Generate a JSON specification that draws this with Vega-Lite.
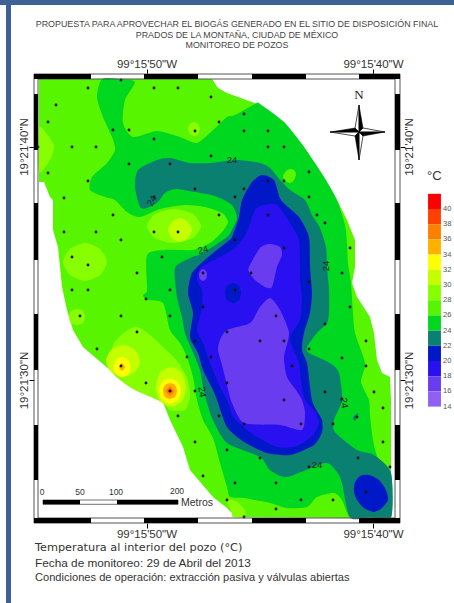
{
"$schema":"https://vega.github.io/schema/vega-lite/v6.json",
"width":366,"height":449,
"autosize":{"type":"none"},
"padding":{"left":34,"top":74,"right":54,"bottom":80},
"background":"#ffffff",
"config":{"view":{"stroke":null},"font":"Liberation Sans"},
"datasets":{
"titleLines":[{"e":237,"n":24,"txt":"PROPUESTA PARA APROVECHAR EL BIOGÁS GENERADO EN EL SITIO DE DISPOSICIÓN FINAL"},{"e":237,"n":34.5,"txt":"PRADOS DE LA MONTAÑA, CIUDAD DE MÉXICO"},{"e":237,"n":45,"txt":"MONITOREO DE POZOS"}],
"outline":[{"id":"base","t":"26","e":[39,212,218,227,260,284,304,324,337,347,355,355,352,357,370,374,377,382,390,391,391,350,233,232,227,213,190,183,170,163,150,133,110,83,73,67,62,58,53,53,50,44,39],"n":[79,79,88,93,105,122,147,177,200,220,240,267,283,297,317,333,360,373,377,400,518,518,517,513,508,497,470,447,420,402,396,388,370,347,330,310,287,247,230,200,197,182,182]}],
"bands":[
{"id":"h1","t":"28","e":[39,47,54,50,39],"n":[128,134,146,160,172]},
{"id":"h2","t":"28","e":[201,193,174,155,147,155,174,193],"n":[226,238,243,238,226,214,209,214]},
{"id":"h3","t":"30","e":[192,188,180,172,168,172,180,188],"n":[230,238,242,238,230,222,218,222]},
{"id":"h4","t":"28","e":[107,100,85,70,63,70,85,100],"n":[262,275,281,275,262,249,243,249]},
{"id":"h5","t":"28","e":[85,83,77,71,69,71,77,83],"n":[317,323,325,323,317,311,309,311]},
{"id":"h6","t":"28","e":[111,113,125,137,150,163,178,187,190,185,170,162,133],"n":[371,345,332,327,335,347,362,378,395,410,410,402,389]},
{"id":"h7","t":"30","e":[140,135,123,111,106,111,123,135],"n":[361,372,377,372,361,350,345,350]},
{"id":"h8","t":"32","e":[130.5,128,122,116,113.5,116,122,128],"n":[367,374,377,374,367,360,357,360]},
{"id":"h9","t":"34","e":[125,122,119,122],"n":[367,371,367,363]},
{"id":"h10","t":"30","e":[186,182,171,160,156,160,171,182],"n":[387,401,407,401,387,373,367,373]},
{"id":"h11","t":"32","e":[181,178,170,162,159,162,170,178],"n":[391,400,403.5,400,391,382,378.5,382]},
{"id":"h12","t":"34","e":[177,175,170,165,163,165,170,175],"n":[391,397,399,397,391,385,383,385]},
{"id":"h13","t":"36","e":[174,170,166,170],"n":[391,395.5,391,386.5]},
{"id":"h14","t":"38","e":[172,170,168,170],"n":[391,393,391,389]},
{"id":"h15","t":"28","e":[200,198,194,190,188,190,194,198],"n":[129,134,136,134,129,124,122,124]},
{"id":"h16","t":"28","e":[227,237,245,244,233,232],"n":[500,502,510,517,517,513]},
{"id":"g1","t":"24","e":[102,97,103,112,115,107,92,90,105,115,127,140,160,185,205,222,228,222,210,193,165,147,147,143,147,163,170,180,187,193,197,203,213,220,227,230,244,270,287,307,317,334,342,350,370,391,391,378,373,370,369,361,365,355,353,351,348,347,345,337,324,304,284,260,257,235,227,213,197,180,157,133,123,125,135,120],"n":[79,97,117,137,150,163,177,190,197,200,212,217,209,205,207,213,222,232,243,250,250,255,290,295,300,303,330,343,357,377,400,420,438,463,487,497,498,503,508,507,497,493,500,517,517.5,517.5,473,458,440,415,400,382,363,333,313,283,263,243,225,200,177,147,122,104,103,115,117,130,143,137,131,137,123,100,82,79]},
{"id":"l1","t":"26","e":[296,294,290,285,283,286,290,294],"n":[174,180,183,181,176,171,169,170]},
{"id":"t1","t":"22","e":[135,138,157,170,190,210,237,260,270,280,290,305,312,320,326,327,329,329,327,317,307,309,330,339,342,334,335,357,374,391,391,370,350,342,337,325,287,270,260,227,213,207,203,200,192,185,182,177,175,190,203,227,232,237,232,215,195,175,165,158,147,140],"n":[187,170,160,158,163,163,160,163,168,180,190,200,215,228,247,267,290,313,323,333,347,353,363,373,400,420,432,450,455,473,517.5,517.5,517.5,483,472,463,477,470,457,443,420,403,387,370,350,333,317,297,268,258,253,237,230,218,205,196,192,189,193,202,208,207]},
{"id":"t3","t":"22","e":[358,355,353,355,358],"n":[415,421,418,415,413]},
{"id":"n1","t":"20","e":[252,262,274,281,299,309,310,312,310,304,302,307,310,312,315,322,322,314,290,267,244,227,217,213,203,198,190,193,188,192,207,227,232,239,242],"n":[182,175,180,200,217,237,267,293,313,333,350,363,387,400,408,420,432,445,455,453,442,427,400,390,370,353,337,313,293,273,258,242,237,217,200]},
{"id":"n2","t":"20","e":[354.7,360,369,379,386,388,382,374,364,357,354],"n":[483,476,475,480,490,500,508,512,508,500,492]},
{"id":"b1","t":"18","e":[255,264,277,290,299,300,300,302,300,290,295,299,302,305,314,319,313,297,277,254,234,227,220,210,203,197,202,202,197,200,210,227,237,247],"n":[210,205,205,223,240,267,280,300,320,337,353,363,387,400,410,422,435,446,447,435,418,400,387,363,343,330,307,290,280,268,262,253,246,232]},
{"id":"n3","t":"20","e":[241,239,233,227,225,227,233,239],"n":[293,300,303,300,293,286,283,286]},
{"id":"v1","t":"16","e":[207,206,203,200,199,200,203,206],"n":[275,279,281,279,275,271,269,271]},
{"id":"v2","t":"16","e":[249,260,270,280,282,277,272,265,255,249],"n":[267,248,244,247,255,267,287,287,280,272]},
{"id":"v3","t":"16","e":[270,280,289,284,287,296,302,305,302,280,244,232,227,222,218,220,227,250,260],"n":[298,310,333,357,377,390,400,413,430,425,423,403,385,365,350,340,330,323,307]}
],
"wells":[{"e":121,"n":80},{"e":88,"n":88},{"e":154,"n":88},{"e":178,"n":88},{"e":211,"n":97},{"e":56,"n":105},{"e":48,"n":122},{"e":113,"n":130},{"e":129,"n":130},{"e":195,"n":131},{"e":219,"n":122},{"e":154,"n":139},{"e":38,"n":147},{"e":72,"n":147},{"e":96,"n":147},{"e":129,"n":164},{"e":170,"n":164},{"e":211,"n":156},{"e":48,"n":173},{"e":88,"n":181},{"e":195,"n":189},{"e":64,"n":198},{"e":154,"n":197},{"e":244,"n":114},{"e":244,"n":131},{"e":268,"n":131},{"e":268,"n":147},{"e":284,"n":147},{"e":309,"n":172},{"e":268,"n":181},{"e":284,"n":181},{"e":244,"n":189},{"e":235,"n":197},{"e":309,"n":197},{"e":113,"n":215},{"e":219,"n":215},{"e":64,"n":232},{"e":96,"n":232},{"e":154,"n":232},{"e":178,"n":232},{"e":121,"n":240},{"e":72,"n":257},{"e":162,"n":257},{"e":88,"n":265},{"e":203,"n":273},{"e":137,"n":273},{"e":72,"n":290},{"e":88,"n":290},{"e":170,"n":290},{"e":146,"n":299},{"e":203,"n":307},{"e":80,"n":316},{"e":121,"n":316},{"e":170,"n":316},{"e":137,"n":332},{"e":195,"n":341},{"e":97,"n":349},{"e":187,"n":357},{"e":211,"n":357},{"e":121,"n":366},{"e":146,"n":383},{"e":170,"n":391},{"e":195,"n":391},{"e":227,"n":383},{"e":317,"n":215},{"e":325,"n":223},{"e":268,"n":215},{"e":284,"n":248},{"e":350,"n":248},{"e":235,"n":240},{"e":251,"n":273},{"e":342,"n":273},{"e":309,"n":282},{"e":235,"n":290},{"e":350,"n":307},{"e":276,"n":316},{"e":325,"n":324},{"e":227,"n":332},{"e":260,"n":341},{"e":284,"n":341},{"e":366,"n":341},{"e":309,"n":349},{"e":342,"n":358},{"e":366,"n":366},{"e":292,"n":366},{"e":325,"n":392},{"e":374,"n":392},{"e":284,"n":400},{"e":342,"n":399},{"e":178,"n":416},{"e":219,"n":416},{"e":195,"n":442},{"e":227,"n":450},{"e":203,"n":476},{"e":227,"n":500},{"e":383,"n":408},{"e":357,"n":417},{"e":244,"n":424},{"e":301,"n":424},{"e":333,"n":424},{"e":383,"n":442},{"e":260,"n":458},{"e":358,"n":458},{"e":390,"n":467},{"e":309,"n":467},{"e":235,"n":483},{"e":276,"n":483},{"e":366,"n":492},{"e":301,"n":500},{"e":333,"n":500},{"e":276,"n":509},{"e":244,"n":517}],
"contourLabels":[{"e":232,"n":160,"txt":"24","rot":0},{"e":152,"n":201,"txt":"24","rot":-60},{"e":203,"n":250,"txt":"24","rot":-15},{"e":326,"n":266,"txt":"24","rot":-90},{"e":202,"n":392,"txt":"24","rot":80},{"e":344,"n":403,"txt":"24","rot":80},{"e":317,"n":465,"txt":"24","rot":0}],
"compassBlack":[{"id":"N","e":[359,363,359],"n":[105,128,132]},{"id":"E","e":[385,363,359],"n":[132,136,132]},{"id":"S","e":[359,355,359],"n":[160,136,132]},{"id":"W","e":[330,355,359],"n":[132,128,132]}],
"compassWhite":[{"id":"N","e":[359,355,359],"n":[105,128,132]},{"id":"E","e":[385,363,359],"n":[132,128,132]},{"id":"S","e":[359,363,359],"n":[160,136,132]},{"id":"W","e":[330,355,359],"n":[132,136,132]}],
"neatBlack":[{"e":34,"e2":91,"n":74,"n2":79},{"e":144,"e2":198,"n":74,"n2":79},{"e":252,"e2":306,"n":74,"n2":79},{"e":359,"e2":400,"n":74,"n2":79},{"e":34,"e2":91,"n":518,"n2":523},{"e":144,"e2":198,"n":518,"n2":523},{"e":252,"e2":306,"n":518,"n2":523},{"e":359,"e2":400,"n":518,"n2":523},{"e":34,"e2":38,"n":94,"n2":150},{"e":34,"e2":38,"n":203,"n2":260},{"e":34,"e2":38,"n":314,"n2":370},{"e":34,"e2":38,"n":425,"n2":480},{"e":395,"e2":400,"n":94,"n2":150},{"e":395,"e2":400,"n":203,"n2":260},{"e":395,"e2":400,"n":314,"n2":370},{"e":395,"e2":400,"n":425,"n2":480}],
"pageBars":[{"e":0,"e2":454,"n":0,"n2":5},{"e":6,"e2":11,"n":0,"n2":603}],
"frames":[{"e":34,"e2":400,"n":74,"n2":523},{"e":38,"e2":395,"n":79,"n2":518}],
"scaleBarBack":[{"e":43,"e2":178,"n":500,"n2":504.3}],
"scaleBar":[{"e":43,"e2":80,"n":500,"n2":504.3},{"e":117,"e2":178,"n":500,"n2":504.3}],
"scaleTicks":[{"txt":"0","e":42,"n":492},{"txt":"50","e":80,"n":492},{"txt":"100","e":116,"n":492},{"txt":"200","e":177,"n":491}]
},
"encoding":{
"x":{"field":"e","type":"quantitative","scale":{"domain":[34,400],"nice":false,"zero":false},"axis":null},
"y":{"field":"n","type":"quantitative","scale":{"domain":[74,523],"nice":false,"zero":false,"reverse":true},"axis":null}
},
"layer":[
{"data":{"name":"pageBars"},"mark":{"type":"rect","color":"#3b6195"},"encoding":{"x2":{"field":"e2"},"y2":{"field":"n2"}}},
{"data":{"name":"titleLines"},"mark":{"type":"text","fontSize":8.9,"color":"#444444"},"encoding":{"text":{"field":"txt"}}},
{"data":{"name":"outline"},"transform":[{"flatten":["e","n"]}],"mark":{"type":"line","strokeWidth":0,"interpolate":"linear-closed"},
"encoding":{"detail":{"field":"id"},"order":{"value":null},"fill":{"field":"t","type":"ordinal","title":"°C","scale":{"domain":["40","38","36","34","32","30","28","26","24","22","20","18","16","14"],"range":["#ff0000","#ff4000","#ff8000","#ffb000","#ffff00","#c4ff00","#88ff00","#58f500","#00d820","#0a8070","#0018c8","#2810f0","#6a3cf0","#9060f5"]},"legend":{"orient":"none","legendX":393,"legendY":96,"values":["40","38","36","34","32","30","28","26","24","22","20","18","16","14"],"symbolType":"M-0.9,-2.12H0.9V0H-0.9Z","symbolSize":205,"symbolStrokeWidth":0,"symbolOpacity":1,"rowPadding":-3.8,"padding":0,"labelFontSize":7.5,"labelColor":"#555555","labelBaseline":"middle","labelOffset":1,"titleFontSize":13,"titleFontWeight":"normal","titleColor":"#333333","titlePadding":18.5}}}},
{"data":{"name":"bands"},"transform":[{"flatten":["e","n"]}],"mark":{"type":"line","strokeWidth":0,"interpolate":"cardinal-closed","tension":0.3},
"encoding":{"detail":{"field":"id"},"order":{"value":null},"fill":{"field":"t","type":"ordinal","scale":{"domain":["40","38","36","34","32","30","28","26","24","22","20","18","16","14"],"range":["#ff0000","#ff4000","#ff8000","#ffb000","#ffff00","#c4ff00","#88ff00","#58f500","#00d820","#0a8070","#0018c8","#2810f0","#6a3cf0","#9060f5"]}}}},
{"data":{"name":"wells"},"mark":{"type":"circle","size":8,"color":"#111111","opacity":1}},
{"data":{"name":"contourLabels"},"mark":{"type":"text","fontSize":9.5,"color":"#222222"},"encoding":{"text":{"field":"txt"},"angle":{"field":"rot","type":"quantitative","scale":null}}},
{"data":{"name":"compassWhite"},"transform":[{"flatten":["e","n"]}],"mark":{"type":"line","fill":"#ffffff","stroke":"#000000","strokeWidth":0.7,"interpolate":"linear-closed"},"encoding":{"detail":{"field":"id"},"order":{"value":null}}},
{"data":{"name":"compassBlack"},"transform":[{"flatten":["e","n"]}],"mark":{"type":"line","fill":"#000000","stroke":"#000000","strokeWidth":0.5,"interpolate":"linear-closed"},"encoding":{"detail":{"field":"id"},"order":{"value":null}}},
{"data":{"values":[{"e":359,"n":95}]},"mark":{"type":"text","text":"N","font":"Liberation Serif","fontSize":13,"color":"#222222"}},
{"data":{"name":"frames"},"mark":{"type":"rect","fillOpacity":0,"stroke":"#555555","strokeWidth":1},"encoding":{"x2":{"field":"e2"},"y2":{"field":"n2"}}},
{"data":{"name":"neatBlack"},"mark":{"type":"rect","color":"#000000"},"encoding":{"x2":{"field":"e2"},"y2":{"field":"n2"}}},
{"data":{"name":"scaleBarBack"},"mark":{"type":"rect","fill":"#ffffff","stroke":"#333333","strokeWidth":0.7},"encoding":{"x2":{"field":"e2"},"y2":{"field":"n2"}}},
{"data":{"name":"scaleBar"},"mark":{"type":"rect","color":"#000000"},"encoding":{"x2":{"field":"e2"},"y2":{"field":"n2"}}},
{"data":{"name":"scaleTicks"},"mark":{"type":"text","fontSize":8.5,"color":"#333333"},"encoding":{"text":{"field":"txt"}}},
{"data":{"values":[{"e":181,"n":503}]},"mark":{"type":"text","text":"Metros","fontSize":10.5,"color":"#333333","align":"left"}},
{"data":{"values":[{"e":35,"n":548}]},"mark":{"type":"text","text":"Temperatura al interior del pozo (°C)","font":"DejaVu Sans","fontSize":11.3,"color":"#333333","align":"left"}},
{"data":{"values":[{"e":35,"n":563}]},"mark":{"type":"text","text":"Fecha de monitoreo: 29 de Abril del 2013","fontSize":11.8,"color":"#333333","align":"left"}},
{"data":{"values":[{"e":35,"n":578}]},"mark":{"type":"text","text":"Condiciones de operación: extracción pasiva y válvulas abiertas","fontSize":11.1,"color":"#333333","align":"left"}},
{"data":{"values":[{"e":146.5,"n":146.5}]},"mark":{"type":"point","opacity":0},"encoding":{
"x":{"field":"e","type":"quantitative","axis":{"orient":"bottom","values":[146.5,373],"labelExpr":"datum.value < 200 ? '99°15\\'50\"W' : '99°15\\'40\"W'","labelFontSize":11.5,"labelColor":"#333333","tickColor":"#000000","tickSize":5,"labelPadding":0,"domain":false,"grid":false,"title":null}},
"y":{"field":"n","type":"quantitative","axis":{"orient":"left","values":[146.5,380],"labelExpr":"datum.value < 200 ? '19°21\\'40\"N' : '19°21\\'30\"N'","labelFontSize":11.5,"labelColor":"#333333","labelAngle":-90,"labelAlign":"center","labelBaseline":"bottom","tickColor":"#000000","tickSize":5,"labelPadding":0,"domain":false,"grid":false,"title":null}}}},
{"data":{"values":[{"e":146.5,"n":146.5}]},"mark":{"type":"point","opacity":0},"encoding":{
"x":{"field":"e","type":"quantitative","axis":{"orient":"top","values":[146.5,373],"labelExpr":"datum.value < 200 ? '99°15\\'50\"W' : '99°15\\'40\"W'","labelFontSize":11.5,"labelColor":"#333333","tickColor":"#000000","tickSize":5,"labelPadding":0,"domain":false,"grid":false,"title":null}},
"y":{"field":"n","type":"quantitative","axis":{"orient":"right","values":[146.5,380],"labelExpr":"datum.value < 200 ? '19°21\\'40\"N' : '19°21\\'30\"N'","labelFontSize":11.5,"labelColor":"#333333","labelAngle":-90,"labelAlign":"center","labelBaseline":"top","tickColor":"#000000","tickSize":5,"labelPadding":-2,"domain":false,"grid":false,"title":null}}}}
],
"resolve":{"axis":{"x":"independent","y":"independent"}}
}
